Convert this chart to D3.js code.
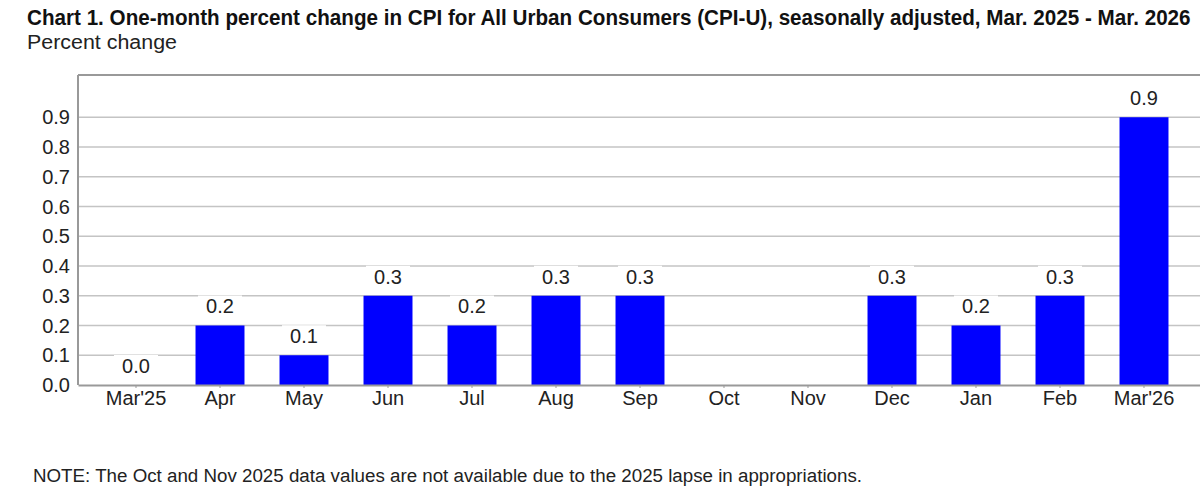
<!DOCTYPE html>
<html>
<head>
<meta charset="utf-8">
<script src="https://cdn.jsdelivr.net/npm/d3@7"></script>
<style>
html,body{margin:0;padding:0;background:#fff;}
svg{display:block;}
text{font-family:"Liberation Sans",Arial,sans-serif;}
</style>
</head>
<body>
<svg id="chart" width="1200" height="502"></svg>
<script>
const categories = ["Mar'25","Apr","May","Jun","Jul","Aug","Sep","Oct","Nov","Dec","Jan","Feb","Mar'26"];
const values = [0.0,0.2,0.1,0.3,0.2,0.3,0.3,null,null,0.3,0.2,0.3,0.9];
const yTicks = [0.0,0.1,0.2,0.3,0.4,0.5,0.6,0.7,0.8,0.9];
const titleText = "Chart 1. One-month percent change in CPI for All Urban Consumers (CPI-U), seasonally adjusted, Mar. 2025 - Mar. 2026";
const subtitleText = "Percent change";
const noteText = "NOTE: The Oct and Nov 2025 data values are not available due to the 2025 lapse in appropriations.";

const svg = d3.select("#chart");
const plot = {left:78, right:1202, top:75, bottom:385};

const x = d3.scaleBand().domain(categories).range([plot.left, plot.right])
  .paddingInner(0.417).paddingOuter(0.399);
const y = d3.scaleLinear().domain([0, 1.042]).range([plot.bottom, plot.top]);

svg.append("rect").attr("width",1200).attr("height",502).attr("fill","#fff");

// Title: fit naturally to width, stretch vertically to keep glyph height
const title = svg.append("text").attr("font-size",22).attr("font-weight","bold")
  .attr("fill","#111").text(titleText);
const natural = title.node().getComputedTextLength();
const targetW = 1164;
const fs = 22 * Math.min(1, targetW / natural);
title.attr("font-size", fs)
  .attr("transform", `translate(27,25) scale(1,${22/fs})`);

svg.append("text").attr("x",27).attr("y",49).attr("font-size",20)
  .attr("fill","#222").attr("textLength",150).attr("lengthAdjust","spacingAndGlyphs").text(subtitleText);

// gridlines
svg.append("g").selectAll("line").data(yTicks.filter(d=>d>0)).join("line")
  .attr("x1",plot.left).attr("x2",plot.right)
  .attr("y1",d=>y(d)).attr("y2",d=>y(d))
  .attr("stroke","#c4c4c4").attr("stroke-width",1.6);

// bars
const data = categories.map((c,i)=>({c, v: values[i]})).filter(d=>d.v!==null);
svg.append("g").selectAll("rect").data(data).join("rect")
  .attr("x",d=>x(d.c)).attr("width",x.bandwidth())
  .attr("y",d=>y(d.v)).attr("height",d=>y(0)-y(d.v))
  .attr("fill","#0000ff");

// value labels with white background
const lbl = svg.append("g").selectAll("g").data(data).join("g");
lbl.append("rect")
  .attr("x",d=>x(d.c)+x.bandwidth()/2-22).attr("width",44)
  .attr("y",d=>y(d.v)-30).attr("height",22).attr("fill","#fff");
lbl.append("text")
  .attr("x",d=>x(d.c)+x.bandwidth()/2).attr("y",d=>y(d.v)-12)
  .attr("text-anchor","middle").attr("font-size",20).attr("fill","#222")
  .text(d=>d3.format(".1f")(d.v));

// y axis labels
svg.append("g").selectAll("text").data(yTicks).join("text")
  .attr("x",70).attr("y",d=>y(d)).attr("dy","0.36em")
  .attr("text-anchor","end").attr("font-size",20).attr("fill","#222")
  .text(d=>d3.format(".1f")(d));

// frame
svg.append("line").attr("x1",plot.left).attr("x2",plot.right).attr("y1",plot.top).attr("y2",plot.top)
  .attr("stroke","#999").attr("stroke-width",2);
svg.append("line").attr("x1",plot.left).attr("x2",plot.left).attr("y1",plot.top).attr("y2",plot.bottom)
  .attr("stroke","#999").attr("stroke-width",2);

// x axis
const xAxis = svg.append("g").attr("transform",`translate(0,${plot.bottom})`)
  .call(d3.axisBottom(x).tickSize(3).tickPadding(5).tickSizeOuter(0));
xAxis.select(".domain").attr("stroke","#999").attr("stroke-width",2);
xAxis.selectAll(".tick line").attr("stroke","#999");
xAxis.selectAll(".tick text").attr("font-size",20).attr("fill","#222")
  .attr("font-family","'Liberation Sans',Arial,sans-serif").attr("dy","0.62em");

// note
svg.append("text").attr("x",33).attr("y",482).attr("font-size",18).attr("fill","#222")
  .attr("textLength",829).attr("lengthAdjust","spacingAndGlyphs").text(noteText);
</script>
</body>
</html>
